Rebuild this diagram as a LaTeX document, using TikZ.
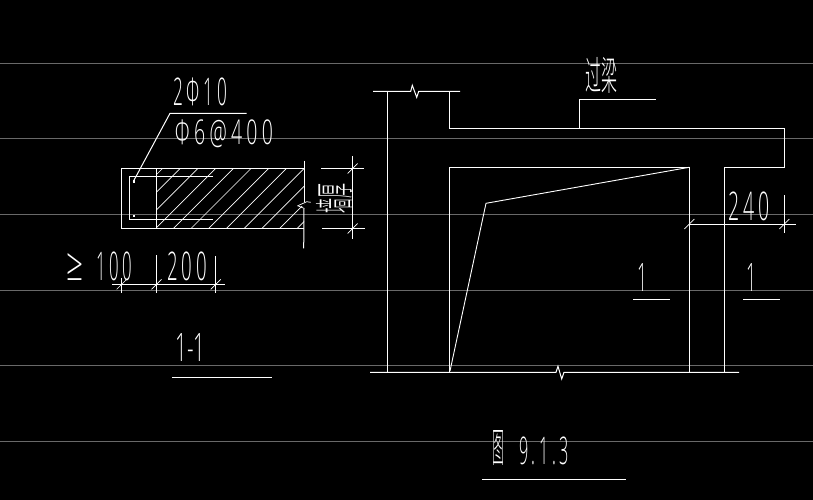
\documentclass[tikz,border=0pt]{standalone}
\usepackage{graphicx}
\usepackage{fontspec}
\setmainfont{Open Sans}[UprightFont=* Light,LetterSpace=22]
\newfontfamily\tightfont{Open Sans}[UprightFont=* Light]
\newfontfamily\cjkthin{Noto Sans CJK SC}[UprightFont=* Light]
\newcommand{\fitbox}[3]{\resizebox*{#1pt}{#2pt}{#3}}
\tikzset{
  x=1pt,y=-1pt,
  cad/.style={draw=white,line width=1pt,line join=miter},
  grid line/.style={draw=gridgray,line width=1pt},
  hatch/.style={draw=white,line width=0.7pt},
  tick/.style={draw=white,line width=0.7pt},
  cadtext/.style={text=white,inner sep=0pt,outer sep=0pt,anchor=center}
}
\definecolor{gridgray}{RGB}{105,105,105}
\newcommand{\dimtick}[2]{\draw[tick] (#1-5,#2+5) -- (#1+5,#2-5);}
\begin{document}
\begin{tikzpicture}
\useasboundingbox (0,0) rectangle (813,500);
\fill[black] (0,0) rectangle (813,500);
% background grid
\foreach \yy in {63.5,138.5,214,290.5,365.5,441}{\draw[grid line] (0,\yy) -- (813,\yy);}
% section 1-1
\draw[cad] (304.3,168) -- (121.7,168) -- (121.7,228.3) -- (304,228.3);
\draw[cad] (156.5,168) -- (156.5,228.3);
\draw[cad] (213,176.3) -- (129.3,176.3) -- (129.3,219.3) -- (213,219.3);
\begin{scope}
\clip (156.5,168) rectangle (304,228.3);
\foreach \k in {-1,...,10}{
  \pgfmathsetmacro{\ss}{348.7+17.7*\k}
  \draw[hatch] (\ss-168,168) -- (\ss-228.3,228.3);
}
\end{scope}
\fill[black] (296,201) rectangle (304,206);
\draw[cad] (304.3,160.7) -- (304.3,201.7);
\draw[hatch] (297.3,206) -- (306.7,201.7) -- (310.7,202.3);
\draw[hatch] (298.3,206) -- (304,208.3);
\draw[cad] (304,208.3) -- (303.7,248.3);
\draw[cad] (246.7,113.3) -- (170,113.3) -- (133.3,181.5);
\fill[white] (132.5,180) rectangle (135,182.5);
\fill[white] (132.5,214.5) rectangle (135,217);
% right dimension of the section
\draw[cad] (352.7,156) -- (352.7,239.3);
\draw[cad] (321,168.5) -- (364,168.5);
\draw[cad] (322,228.5) -- (365,228.5);
\dimtick{352.7}{168.5}
\dimtick{352.7}{228.5}
% bottom dimension of the section
\draw[cad] (112,284.3) -- (225,284.3);
\draw[cad] (121.7,278) -- (121.7,293);
\draw[cad] (156.5,255) -- (156.5,293);
\draw[cad] (215.7,256) -- (215.7,293);
\dimtick{121.7}{284.3}
\dimtick{156.5}{284.3}
\dimtick{215.7}{284.3}
% section labels
\node[cadtext] (bars) at (200,92) {\fitbox{54}{28}{2Φ10}};
\node[cadtext] (stirrup) at (224,134) {\fitbox{98}{28}{Φ6@400}};
\node[cadtext] (ge) at (75.5,266.5) {\fitbox{17}{27}{\tightfont ≥}};
\node[cadtext] (w100) at (114,266.5) {\fitbox{36}{29}{100}};
\node[cadtext] (w200) at (187,266.5) {\fitbox{40}{29}{200}};
\node[cadtext,rotate=90] (thick) at (334,198) {\fitbox{30}{36}{\cjkthin 墙厚}};
\node[cadtext] (sec) at (190.5,347) {\fitbox{30}{28}{\tightfont 1-1}};
\draw[cad] (172,377) -- (272,377);
% elevation
\draw[cad] (373,91.3) -- (410.7,91.3) -- (412.3,85.3) -- (416.7,97.3) -- (418.7,91.3) -- (460,91.3);
\draw[cad] (387.3,91.3) -- (387.3,372.3);
\draw[cad] (449.3,91.3) -- (449.3,128.3) -- (784.3,128.3) -- (784.3,167.3) -- (724.3,167.3) -- (724.3,372.3);
\draw[cad] (449.3,372.3) -- (449.3,167.3) -- (689.3,167.3) -- (689.3,372.3);
\draw[hatch,line width=0.9pt] (689.3,167.3) -- (486,203.3) -- (450,371);
\draw[cad] (370,372.3) -- (556,372.3) -- (558,366.3) -- (561.7,379) -- (564,372.3) -- (739,372.3);
\draw[cad] (579.3,128.3) -- (579.3,99.3) -- (655.7,99.3);
\node[cadtext] (beam) at (601,75.5) {\fitbox{32}{36}{\cjkthin 过梁}};
% dimension 240
\draw[cad] (689.3,224) -- (795.7,224);
\draw[cad] (784.3,195) -- (784.3,232.7);
\dimtick{689.3}{224}
\dimtick{784.3}{224}
\node[cadtext] (w240) at (749,206.5) {\fitbox{42}{29}{240}};
% section marks
\node[cadtext] (markA) at (642,277) {\fitbox{10}{28}{\tightfont 1}};
\draw[cad] (633,299.3) -- (670,299.3);
\node[cadtext] (markB) at (751,277) {\fitbox{10}{28}{\tightfont 1}};
\draw[cad] (743,299.3) -- (780,299.3);
% caption
\node[cadtext] (figc) at (498,448.5) {\fitbox{12}{35}{\cjkthin 图}};
\node[cadtext] (fign) at (544,451) {\fitbox{50}{28}{9.1.3}};
\draw[cad] (482,479.3) -- (626,479.3);
\end{tikzpicture}
\end{document}
